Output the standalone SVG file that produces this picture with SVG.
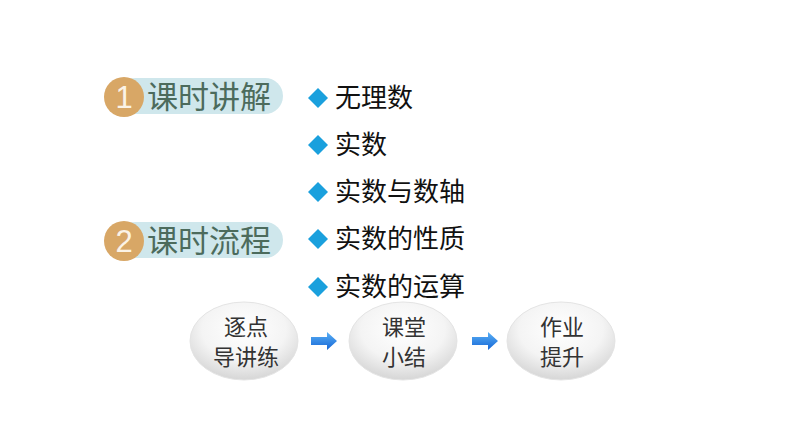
<svg xmlns="http://www.w3.org/2000/svg" width="794" height="447" viewBox="0 0 794 447">
<style>
.pill{fill:#CFE7EC}
.num{fill:#D8A766}
.numt{font-family:"Liberation Sans",sans-serif;font-size:31px;fill:#FBF3E6;text-anchor:middle}
.lab{font-family:"Noto Sans CJK SC",sans-serif;font-size:31px;fill:#4C6B5C}
.dia{fill:#1AA0DD}
.bt{font-family:"Noto Sans CJK SC",sans-serif;font-size:26px;fill:#111}
.ell{fill:url(#eg);stroke:#E4E4E4;stroke-width:1}
.et{font-family:"Noto Sans CJK SC",sans-serif;font-size:22px;fill:#333;text-anchor:middle}
.arr{fill:url(#ag)}
</style>
<defs>
<radialGradient id="eg" cx="0.5" cy="0.35" r="0.65">
<stop offset="0" stop-color="#FFFFFF"/>
<stop offset="0.6" stop-color="#F4F4F4"/>
<stop offset="1" stop-color="#D6D6D6"/>
</radialGradient>
<linearGradient id="ag" x1="0" y1="0" x2="0" y2="1">
<stop offset="0" stop-color="#5AB0F5"/>
<stop offset="1" stop-color="#1566D6"/>
</linearGradient>
<polygon id="diamond" points="0,-10 10,0 0,10 -10,0"/>
<polygon id="arrow" points="0,-4 16,-4 16,-9 26,0 16,9 16,4 0,4"/>
</defs>
<rect width="794" height="447" fill="#FFFFFF"/>
<g id="section1">
<rect class="pill" x="118" y="78" width="165" height="36" rx="18"/>
<circle class="num" cx="124" cy="97" r="20"/>
<text class="numt" x="124" y="108">1</text>
<text class="lab" x="147" y="108">课时讲解</text>
</g>
<g id="section2">
<rect class="pill" x="118" y="222" width="165" height="36" rx="18"/>
<circle class="num" cx="124" cy="241" r="20"/>
<text class="numt" x="124" y="252">2</text>
<text class="lab" x="147" y="252">课时流程</text>
</g>
<g id="bullets">
<use href="#diamond" class="dia" x="318" y="98"/>
<text class="bt" x="335" y="107">无理数</text>
<use href="#diamond" class="dia" x="318" y="145"/>
<text class="bt" x="335" y="154">实数</text>
<use href="#diamond" class="dia" x="318" y="192"/>
<text class="bt" x="335" y="201">实数与数轴</text>
<use href="#diamond" class="dia" x="318" y="239"/>
<text class="bt" x="335" y="248">实数的性质</text>
<use href="#diamond" class="dia" x="318" y="287"/>
<text class="bt" x="335" y="296">实数的运算</text>
</g>
<g id="step1">
<ellipse class="ell" cx="244" cy="341" rx="54" ry="39"/>
<text class="et" x="246" y="335">逐点</text>
<text class="et" x="246" y="365">导讲练</text>
</g>
<g id="step2">
<ellipse class="ell" cx="403" cy="341" rx="54" ry="39"/>
<text class="et" x="404" y="335">课堂</text>
<text class="et" x="404" y="365">小结</text>
</g>
<g id="step3">
<ellipse class="ell" cx="561" cy="341" rx="54" ry="39"/>
<text class="et" x="562" y="335">作业</text>
<text class="et" x="562" y="365">提升</text>
</g>
<g id="connectors">
<use href="#arrow" class="arr" x="311" y="341"/>
<use href="#arrow" class="arr" x="472" y="341"/>
</g>
</svg>
